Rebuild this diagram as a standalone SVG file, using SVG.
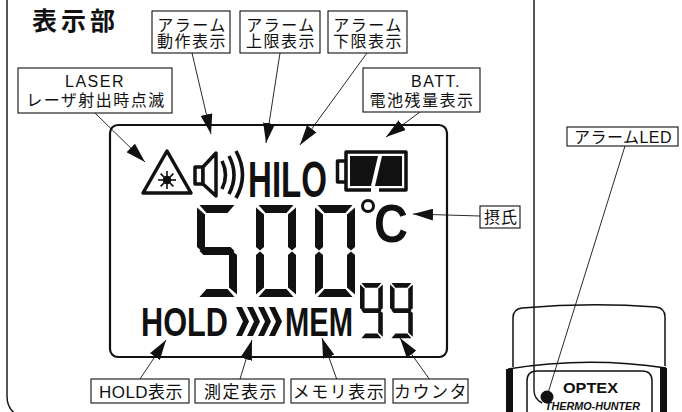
<svg xmlns="http://www.w3.org/2000/svg" width="682" height="412" viewBox="0 0 682 412">
  <style>
    .frame { fill: none; stroke: #111; stroke-width: 1.4; }
    .box { fill: #fff; stroke: #111; stroke-width: 1.1; }
    .lbl { font-family: "Liberation Sans", "Noto Sans CJK JP", sans-serif; font-size: 16px; fill: #111; text-anchor: middle; letter-spacing: 1.5px; }
    .lbl-b { font-size: 17px; }
    .title { font-family: "Noto Sans CJK JP", sans-serif; font-size: 25px; font-weight: bold; fill: #111; letter-spacing: 4px; }
    .lcd { fill: #fff; stroke: #111; stroke-width: 2.2; }
    .seg { fill: #111; }
    .ico { fill: #fff; stroke: #111; stroke-width: 3.5; stroke-linejoin: round; }
    .wave { fill: none; stroke: #111; stroke-width: 3.6; stroke-linecap: butt; }
    .seg-txt { font-family: "Liberation Sans", "DejaVu Sans", sans-serif; font-weight: bold; fill: #111; }
    .conn { fill: none; stroke: #111; stroke-width: 0.9; }
    .dev { fill: none; stroke: #111; stroke-width: 1.5; }
  </style>
  <defs>
    <marker id="arrow" viewBox="0 0 20 12" refX="20" refY="6" markerWidth="20" markerHeight="12" markerUnits="userSpaceOnUse" orient="auto">
      <path d="M0,0 L20,6 L0,12 Z" fill="#111"/>
    </marker>
    <!-- seven-segment pieces, 40 x 92 cell -->
    <polygon id="sa" points="2.5,0 37.5,0 30.5,8 9.5,8"/>
    <polygon id="sf" points="0,2.5 8,9.5 8,42 4,45.5 0,42"/>
    <polygon id="sb" points="40,2.5 40,42 36,45.5 32,42 32,9.5"/>
    <polygon id="sg" points="2.5,46 6.5,42 33.5,42 37.5,46 33.5,50 6.5,50"/>
    <polygon id="se" points="0,50 4,46.5 8,50 8,82.5 0,89.5"/>
    <polygon id="sc" points="40,50 40,89.5 32,82.5 32,50 36,46.5"/>
    <polygon id="sd" points="2.5,92 9.5,84 30.5,84 37.5,92"/>
    <g id="d5" class="seg"><use href="#sa"/><use href="#sf"/><use href="#sg"/><use href="#sc"/><use href="#sd"/></g>
    <g id="d0" class="seg"><use href="#sa"/><use href="#sf"/><use href="#sb"/><use href="#se"/><use href="#sc"/><use href="#sd"/></g>
    <g id="d9" class="seg"><use href="#sa"/><use href="#sf"/><use href="#sb"/><use href="#sg"/><use href="#sc"/><use href="#sd"/></g>
  </defs>

  <rect width="682" height="412" fill="#fff"/>

  <!-- panel outlines -->
  <path class="frame" d="M7,0 V396 Q7,411 20,416"/>
  <path class="frame" d="M534,0 V390 Q534,399 542,403"/>

  <text class="title" x="32" y="30">表示部</text>

  <!-- LCD panel -->
  <g id="lcd">
    <rect class="lcd" x="110" y="125" width="337" height="232" rx="8"/>
    <!-- laser warning -->
    <polygon class="ico" points="167,151 191,193 143,193"/>
    <g stroke="#111" stroke-width="1.6">
      <circle cx="167" cy="180" r="3.5" fill="#111"/>
      <line x1="167" y1="171" x2="167" y2="189"/>
      <line x1="158" y1="180" x2="176" y2="180"/>
      <line x1="160.6" y1="173.6" x2="173.4" y2="186.4"/>
      <line x1="160.6" y1="186.4" x2="173.4" y2="173.6"/>
    </g>
    <!-- alarm speaker -->
    <rect class="ico" x="195" y="167" width="8" height="17"/>
    <polygon class="ico" points="203,167 216,153 216,196 203,184"/>
    <path class="wave" d="M222,161 Q229,175 222,189"/>
    <path class="wave" d="M229,156 Q239,175 229,194"/>
    <path class="wave" d="M236,151 Q249,175 236,198"/>
    <text class="seg-txt" x="248" y="197" font-size="50" textLength="79" lengthAdjust="spacingAndGlyphs">HILO</text>
    <!-- battery -->
    <rect class="ico" x="337.5" y="161" width="9" height="21"/>
    <rect class="ico" x="346" y="152" width="60" height="38"/>
    <polygon class="seg" points="350,156 378,156 371,186 350,186"/>
    <polygon class="seg" points="382,156 402,156 402,186 375,186"/>
    <line x1="371" y1="190" x2="379" y2="190" stroke="#fff" stroke-width="4"/>
    <!-- main reading -->
    <use href="#d5" transform="translate(197,205)"/>
    <use href="#d0" transform="translate(256,205)"/>
    <use href="#d0" transform="translate(315,205)"/>
    <circle cx="368" cy="206" r="5.5" fill="none" stroke="#111" stroke-width="3"/>
    <text class="seg-txt" x="374" y="242" font-size="53" textLength="34" lengthAdjust="spacingAndGlyphs">C</text>
    <!-- status row -->
    <text class="seg-txt" x="141" y="336" font-size="40" textLength="87" lengthAdjust="spacingAndGlyphs">HOLD</text>
    <g class="seg">
      <polygon points="236,307 242,307 249,321.5 242,336 236,336 243,321.5"/>
      <polygon points="247,307 253,307 260,321.5 253,336 247,336 254,321.5"/>
      <polygon points="258,307 264,307 271,321.5 264,336 258,336 265,321.5"/>
      <polygon points="269,307 275,307 282,321.5 275,336 269,336 276,321.5"/>
    </g>
    <text class="seg-txt" x="285" y="336" font-size="40" textLength="68" lengthAdjust="spacingAndGlyphs">MEM</text>
    <use href="#d9" transform="translate(360,283) scale(0.57,0.6)"/>
    <use href="#d9" transform="translate(390,283) scale(0.57,0.6)"/>
  </g>

  <!-- thermometer body -->
  <g id="device">
    <path class="dev" d="M513,367 V318 Q513,309 522,308 Q590,302 656,307 Q665,308 665,317 V366"/>
    <path class="dev" d="M508,369 Q587,356 666,368"/>
    <rect x="506" y="369" width="7" height="43" fill="#111"/>
    <rect x="660" y="368" width="7" height="44" fill="#111"/>
    <path class="dev" d="M527,412 V381 Q527,371 537,371 H642 Q652,371 652,381 V412"/>
    <text x="563" y="393" font-family="Liberation Sans, sans-serif" font-size="15" font-weight="900" fill="#111" textLength="55" lengthAdjust="spacingAndGlyphs">OPTEX</text>
    <text x="545" y="410" font-family="Liberation Sans, sans-serif" font-size="10" font-weight="bold" font-style="italic" fill="#111" textLength="95" lengthAdjust="spacingAndGlyphs">THERMO-HUNTER</text>
    <circle id="alarm-led-dot" cx="547" cy="397" r="6.5" fill="#111"/>
  </g>

  <!-- connectors -->
  <g id="connectors">
    <line class="conn" x1="95" y1="113" x2="145" y2="162" marker-end="url(#arrow)"/>
    <line class="conn" x1="192" y1="53" x2="211" y2="134" marker-end="url(#arrow)"/>
    <line class="conn" x1="280" y1="53" x2="266" y2="143" marker-end="url(#arrow)"/>
    <line class="conn" x1="367" y1="53" x2="300" y2="145" marker-end="url(#arrow)"/>
    <line class="conn" x1="420" y1="112" x2="386" y2="137" marker-end="url(#arrow)"/>
    <line class="conn" x1="480" y1="216" x2="413" y2="214" marker-end="url(#arrow)"/>
    <line class="conn" x1="140" y1="379" x2="166" y2="340" marker-end="url(#arrow)"/>
    <line class="conn" x1="240" y1="379" x2="252" y2="340" marker-end="url(#arrow)"/>
    <line class="conn" x1="337" y1="380" x2="322" y2="338" marker-end="url(#arrow)"/>
    <line class="conn" x1="430" y1="380" x2="400" y2="338" marker-end="url(#arrow)"/>
    <line class="conn" x1="625" y1="146" x2="548" y2="393"/>
  </g>

  <!-- labels -->
  <g id="lbl-alarm-on">
    <rect class="box" x="152" y="11" width="78" height="42"/>
    <text class="lbl" x="192" y="31">アラーム</text>
    <text class="lbl" x="192" y="47">動作表示</text>
  </g>
  <g id="lbl-alarm-hi">
    <rect class="box" x="240" y="11" width="80" height="42"/>
    <text class="lbl" x="281" y="31">アラーム</text>
    <text class="lbl" x="281" y="47">上限表示</text>
  </g>
  <g id="lbl-alarm-lo">
    <rect class="box" x="328" y="11" width="79" height="42"/>
    <text class="lbl" x="368" y="31">アラーム</text>
    <text class="lbl" x="368" y="47">下限表示</text>
  </g>
  <g id="lbl-laser">
    <rect class="box" x="18" y="68" width="154" height="45"/>
    <text class="lbl" x="95" y="87">LASER</text>
    <text class="lbl" x="96" y="106">レーザ射出時点滅</text>
  </g>
  <g id="lbl-batt">
    <rect class="box" x="363" y="68" width="117" height="44"/>
    <text class="lbl" x="436" y="87">BATT.</text>
    <text class="lbl" x="422" y="106">電池残量表示</text>
  </g>
  <g id="lbl-celsius">
    <rect class="box" x="480" y="206" width="40" height="22"/>
    <text class="lbl" x="501" y="223" style="letter-spacing:1px">摂氏</text>
  </g>
  <g id="lbl-alarm-led">
    <rect class="box" x="567" y="127" width="111" height="19"/>
    <text class="lbl" x="623" y="143" style="letter-spacing:0.5px">アラームLED</text>
  </g>
  <g id="lbl-hold">
    <rect class="box" x="91" y="379" width="98" height="24"/>
    <text class="lbl lbl-b" x="141" y="398" style="letter-spacing:0.5px">HOLD表示</text>
  </g>
  <g id="lbl-measure">
    <rect class="box" x="195" y="379" width="89" height="24"/>
    <text class="lbl lbl-b" x="241" y="398">測定表示</text>
  </g>
  <g id="lbl-memory">
    <rect class="box" x="291" y="379" width="94" height="24"/>
    <text class="lbl lbl-b" x="339" y="398">メモリ表示</text>
  </g>
  <g id="lbl-counter">
    <rect class="box" x="393" y="379" width="75" height="24"/>
    <text class="lbl lbl-b" x="431" y="398">カウンタ</text>
  </g>
</svg>
